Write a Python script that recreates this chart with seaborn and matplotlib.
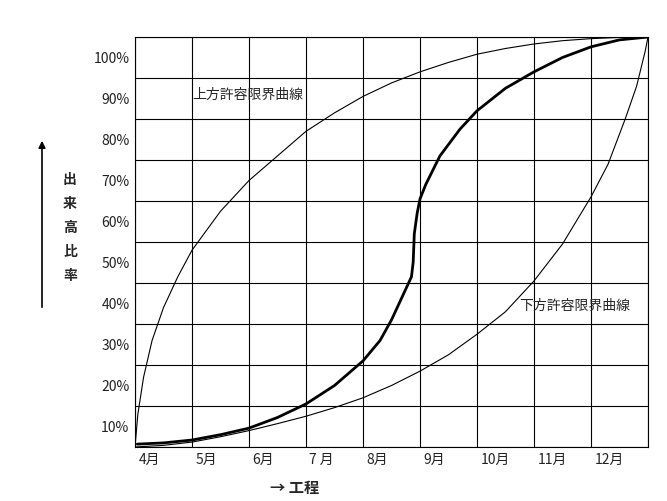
import matplotlib
matplotlib.use("Agg")
import matplotlib.pyplot as plt
import seaborn as sns
import numpy as np

months = ["4月", "5月", "6月", "7 月", "8月", "9月", "10月", "11月", "12月"]
pct_labels = ["10%", "20%", "30%", "40%", "50%", "60%", "70%", "80%", "90%", "100%"]

# actual progress (S curve), x in months from start of April, y in %
actual_x = [0.04, 0.5, 1.0, 1.5, 2.0, 2.5, 3.0, 3.5, 4.0, 4.3, 4.5, 4.7, 4.85, 4.88, 4.9, 4.95, 5.0, 5.1, 5.35, 5.7, 6.0, 6.5, 7.0, 7.5, 8.0, 8.5, 9.0]
actual_y = [0.7, 1.0, 1.7, 3.0, 4.6, 7.2, 10.5, 15.0, 21.0, 26.0, 31.0, 37.0, 41.5, 45.0, 52.0, 57.0, 60.5, 64.0, 71.0, 77.5, 82.0, 87.5, 91.5, 95.0, 97.6, 99.3, 100.0]

upper_x = [0.0, 0.05, 0.15, 0.3, 0.5, 0.75, 1.0, 1.5, 2.0, 2.5, 3.0, 3.5, 4.0, 4.5, 5.0, 5.5, 6.0, 6.5, 7.0, 7.5, 8.0, 8.5, 9.0]
upper_y = [0.0, 8.0, 17.0, 26.0, 34.0, 41.5, 48.0, 57.5, 65.0, 71.0, 77.0, 81.5, 85.5, 88.8, 91.5, 93.8, 95.8, 97.2, 98.3, 99.1, 99.6, 99.9, 100.0]

lower_x = [0.0, 0.5, 1.0, 1.5, 2.0, 2.5, 3.0, 3.5, 4.0, 4.5, 5.0, 5.5, 6.0, 6.5, 7.0, 7.5, 8.0, 8.3, 8.6, 8.8, 8.95, 9.0]
lower_y = [0.0, 0.4, 1.2, 2.5, 4.0, 5.7, 7.5, 9.6, 12.0, 15.0, 18.5, 22.5, 27.5, 33.0, 40.5, 49.5, 61.0, 69.0, 80.0, 88.0, 96.5, 100.0]

sns.set_theme(style="white")
plt.rcParams['font.family'] = ['Noto Sans CJK JP', 'DejaVu Sans']

fig = plt.figure(figsize=(6.67, 5.01), dpi=100)
ax = fig.add_axes([135 / 667, 54 / 501, 513 / 667, 410 / 501])

sns.lineplot(x=upper_x, y=upper_y, ax=ax, color="black", linewidth=0.8, sort=False)
sns.lineplot(x=lower_x, y=lower_y, ax=ax, color="black", linewidth=0.8, sort=False)
sns.lineplot(x=actual_x, y=actual_y, ax=ax, color="black", linewidth=2.0, sort=False)

ax.set_xlim(0, 9)
ax.set_ylim(0, 100)
ax.set_xticks(np.arange(0, 10))
ax.set_yticks(np.arange(0, 101, 10))
ax.set_xticklabels([])
ax.set_yticklabels([])
ax.tick_params(which="both", length=0)
ax.grid(True, color="black", linewidth=0.8)

ax.set_xticks(np.arange(9) + 0.06, labels=months, minor=True, ha="left")
ax.set_yticks(np.arange(10) * 10 + 5, labels=pct_labels, minor=True)
ax.tick_params(which="minor", labelsize=10, colors="#222222", pad=4)

for s in ax.spines.values():
    s.set_color("black")
    s.set_linewidth(0.8)

ax.text(1.0, 86, "上方許容限界曲線", fontsize=10, ha="left", va="center")
ax.text(6.75, 34.5, "下方許容限界曲線", fontsize=10, ha="left", va="center")

# vertical y label with arrow, bold x label
fig.text(70 / 667, 1 - 228 / 501, "出\n来\n高\n比\n率", fontsize=10, fontweight="bold",
         ha="center", va="center", linespacing=1.9)
fig.add_artist(matplotlib.patches.FancyArrowPatch((42 / 667, 1 - 310 / 501), (42 / 667, 1 - 138 / 501),
               transform=fig.transFigure, arrowstyle="-|>", mutation_scale=10, color="black", linewidth=1.2))
fig.text(295 / 667, 1 - 488 / 501, "→ 工程", fontsize=11, fontweight="bold", ha="center", va="center")

fig.savefig("out.png", dpi=100)
